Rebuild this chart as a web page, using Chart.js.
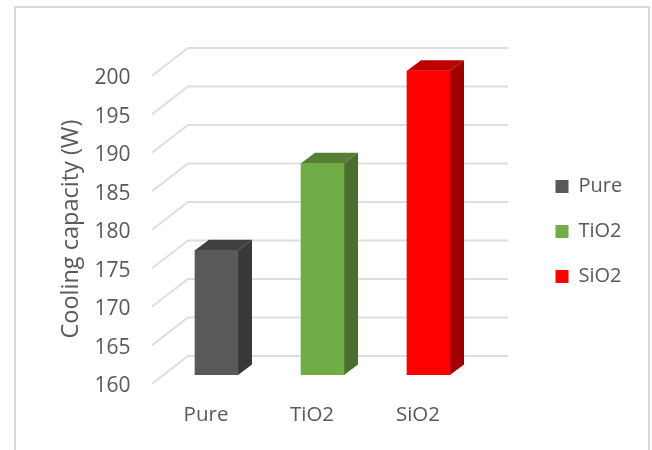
<!DOCTYPE html>
<html>
<head>
<meta charset="utf-8">
<style>
  html, body { margin: 0; padding: 0; background: #fff; }
  #card { position: absolute; left: 14px; top: 6px; width: 636px; height: 444px; border: 2px solid #d9d9d9; border-bottom: none; box-sizing: border-box; }
  #chart { position: absolute; left: 0; top: 0; }
</style>
<script src="https://cdn.jsdelivr.net/npm/chart.js@4"></script>
</head>
<body>
<div id="card"></div>
<canvas id="chart" width="652" height="450"></canvas>
<script>
// values
const categories = ['Pure', 'TiO2', 'SiO2'];
const capacity = [176.2, 187.5, 199.5];
const yTitle = 'Cooling capacity (W)';

const faceColors = ['#595959', '#70ad47', '#ff0000'];
const topColors = ['#404040', '#567f35', '#bb0000'];
const sideColors = ['#383838', '#4b6d2f', '#9e0000'];

const textColor = '#595959';
const fontName = '"Open Sans"';

// fake 3D: floor grid behind the bars and the top/side faces of each bar
const depth3d = {
  id: 'depth3d',
  afterLayout(chart) {
    // legend sits further right than the layout would put it
    const legend = chart.legend;
    legend.left = 530.5;
    legend.right = 652;
    legend.top -= 27;
    legend.bottom -= 27;
  },
  beforeDatasetsDraw(chart) {
    const c = chart.ctx;
    const area = chart.chartArea;
    const y = chart.scales.y;

    c.save();
    c.strokeStyle = '#dedede';
    c.lineWidth = 2;
    y.ticks.forEach(t => {
      const py = y.getPixelForValue(t.value);
      c.beginPath();
      c.moveTo(area.left - 11.5, py + 8.7);
      c.lineTo(area.left + 24.5, py - 19);
      c.lineTo(area.right + 26.5, py - 19);
      c.stroke();
    });

    const dx = 14, dy = 10.5;
    chart.getDatasetMeta(0).data.forEach((bar, i) => {
      const l = bar.x - bar.width / 2;
      const r = bar.x + bar.width / 2;
      c.fillStyle = topColors[i];
      c.beginPath();
      c.moveTo(l, bar.y);
      c.lineTo(l + dx, bar.y - dy);
      c.lineTo(r + dx, bar.y - dy);
      c.lineTo(r, bar.y);
      c.closePath();
      c.fill();
      c.fillStyle = sideColors[i];
      c.beginPath();
      c.moveTo(r, bar.y);
      c.lineTo(r + dx, bar.y - dy);
      c.lineTo(r + dx, bar.base - dy);
      c.lineTo(r, bar.base);
      c.closePath();
      c.fill();
    });
    c.restore();
  },
  afterDraw(chart) {
    // axis title sits lower than the scale's own centre
    const c = chart.ctx;
    c.save();
    c.translate(71, 229);
    c.rotate(-Math.PI / 2);
    c.font = '23.5px ' + fontName;
    c.fillStyle = textColor;
    c.textAlign = 'center';
    c.textBaseline = 'middle';
    c.fillText(yTitle, 0, 0);
    c.restore();
  }
};

new Chart(document.getElementById('chart').getContext('2d'), {
  type: 'bar',
  data: {
    labels: categories,
    datasets: [{
      data: capacity,
      base: 160,
      backgroundColor: faceColors,
      barThickness: 43
    }]
  },
  plugins: [depth3d],
  options: {
    responsive: false,
    animation: false,
    layout: { padding: { top: 67, right: 90.5, bottom: 0, left: 0 } },
    plugins: {
      tooltip: { enabled: false },
      legend: {
        position: 'right',
        maxWidth: 80,
        labels: {
          boxWidth: 13,
          boxHeight: 13,
          padding: 25,
          color: textColor,
          font: { family: fontName, size: 20 },
          generateLabels: () => categories.map((name, i) => ({
            text: name,
            fillStyle: faceColors[i],
            strokeStyle: faceColors[i],
            lineWidth: 0,
            fontColor: textColor,
            index: i
          }))
        }
      }
    },
    scales: {
      x: {
        grid: { display: false },
        border: { display: false },
        afterFit(scale) { scale.height = 75; },
        ticks: {
          color: textColor,
          font: { family: fontName, size: 20.5 },
          padding: 20,
          labelOffset: -10.5,
          maxRotation: 0
        }
      },
      y: {
        min: 160,
        max: 200,
        grid: { display: false },
        border: { display: false },
        afterFit(scale) { scale.width = 163.5; },
        ticks: {
          stepSize: 5,
          color: textColor,
          font: { family: fontName, size: 21 },
          padding: 25,
          labelOffset: 11.5
        }
      }
    }
  }
});
</script>
</body>
</html>
